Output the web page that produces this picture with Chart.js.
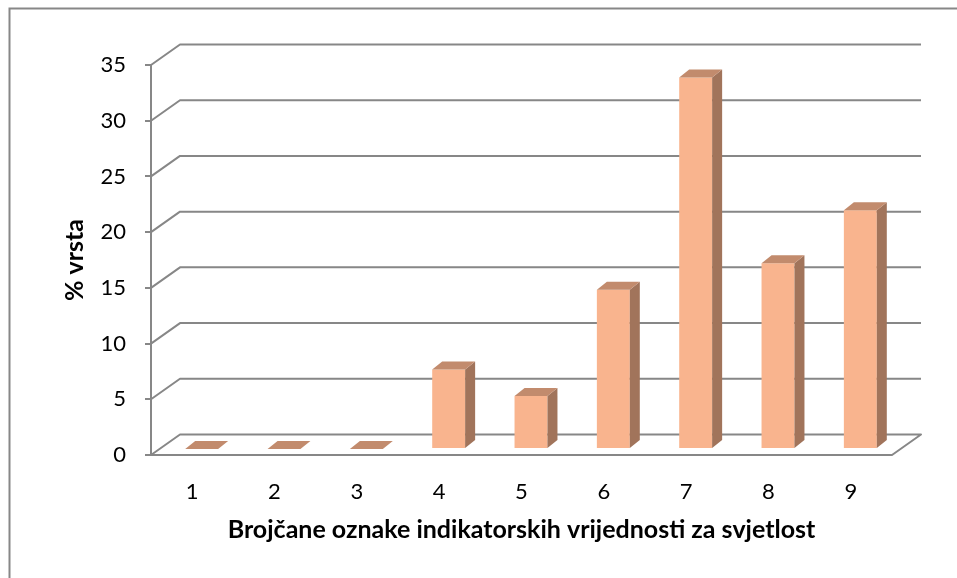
<!DOCTYPE html>
<html>
<head>
<meta charset="utf-8">
<script src="https://cdn.jsdelivr.net/npm/chart.js@4"></script>
<style>
  html, body { margin: 0; padding: 0; background: #fff; }
  #chart { display: block; }
</style>
</head>
<body>
<canvas id="chart" width="957" height="578"></canvas>
<script>
// values (% of species per light indicator value)
const categories = ["1", "2", "3", "4", "5", "6", "7", "8", "9"];
const percentages = [0, 0, 0, 7.14, 4.76, 14.29, 33.33, 16.67, 21.43];
const yTicks = [0, 5, 10, 15, 20, 25, 30, 35];

const GRID = "#878787";
const FRONT = "#f9b48e";
const SIDE = "#a1745b";
const TOP = "#c28b6d";
const WALL_DX = 29, WALL_DY = -20.5; // depth of the floor / back wall
const BAR_DX = 9.5, BAR_DY = -6;     // where the bars stand inside that depth
const DEPTH_X = 10, DEPTH_Y = -8;    // thickness of each bar

const walls3d = {
  id: "walls3d",
  beforeDraw(chart) {
    const ctx = chart.ctx;
    ctx.save();
    ctx.strokeStyle = GRID;
    ctx.lineWidth = 2;
    ctx.beginPath();
    ctx.moveTo(9.5, chart.height);
    ctx.lineTo(9.5, 8.5);
    ctx.lineTo(chart.width, 8.5);
    ctx.stroke();
    ctx.restore();
  },
  beforeDatasetsDraw(chart) {
    const ctx = chart.ctx;
    const { left, right } = chart.chartArea;
    const y = chart.scales.y;
    ctx.save();
    ctx.strokeStyle = GRID;
    ctx.lineWidth = 2;
    ctx.lineJoin = "round";
    yTicks.forEach(v => {
      const py = y.getPixelForValue(v);
      ctx.beginPath();
      ctx.moveTo(left, py);
      ctx.lineTo(left + WALL_DX, py + WALL_DY);
      ctx.lineTo(right + WALL_DX, py + WALL_DY);
      if (v === 0) {
        ctx.lineTo(right, py);
        ctx.lineTo(left, py);
      }
      ctx.stroke();
    });
    ctx.restore();
    // shift the library's bars back into the floor
    ctx.save();
    ctx.translate(BAR_DX, BAR_DY);
  },
  afterDatasetsDraw(chart) {
    const ctx = chart.ctx;
    const meta = chart.getDatasetMeta(0);
    meta.data.forEach(bar => {
      const { x, y, base, width } = bar.getProps(["x", "y", "base", "width"], true);
      const l = x - width / 2, r = x + width / 2;
      // side face
      ctx.fillStyle = SIDE;
      ctx.beginPath();
      ctx.moveTo(r, y);
      ctx.lineTo(r + DEPTH_X, y + DEPTH_Y);
      ctx.lineTo(r + DEPTH_X, base + DEPTH_Y);
      ctx.lineTo(r, base);
      ctx.closePath();
      ctx.fill();
      // top face
      ctx.fillStyle = TOP;
      ctx.beginPath();
      ctx.moveTo(l, y);
      ctx.lineTo(l + DEPTH_X, y + DEPTH_Y);
      ctx.lineTo(r + DEPTH_X, y + DEPTH_Y);
      ctx.lineTo(r, y);
      ctx.closePath();
      ctx.fill();
    });
    ctx.restore();
  }
};

new Chart(document.getElementById("chart"), {
  type: "bar",
  data: {
    labels: categories,
    datasets: [{
      data: percentages,
      backgroundColor: FRONT,
      borderWidth: 0,
      categoryPercentage: 1,
      barPercentage: 0.4,
      clip: false
    }]
  },
  options: {
    responsive: false,
    animation: false,
    events: [],
    layout: { padding: { left: 0, top: 65, right: 65, bottom: 0 } },
    plugins: { legend: { display: false }, tooltip: { enabled: false } },
    scales: {
      x: {
        grid: { display: false, drawTicks: false },
        border: { display: false },
        ticks: { color: "#000", padding: 24, font: { family: "Lato", size: 22 } },
        title: {
          display: true,
          text: "Brojčane oznake indikatorskih vrijednosti za svjetlost",
          color: "#000",
          font: { family: "Lato", size: 25, weight: "bold" },
          padding: { top: 0, bottom: 33 }
        },
        afterFit(scale) { scale.height = 123; }
      },
      y: {
        min: 0,
        max: 35,
        ticks: { stepSize: 5, color: "#000", padding: 19, font: { family: "Lato", size: 22 } },
        grid: { drawOnChartArea: false, drawTicks: true, tickLength: 6, color: GRID, lineWidth: 2 },
        border: { display: true, color: GRID, width: 2 },
        title: {
          display: true,
          text: "% vrsta",
          color: "#000",
          font: { family: "Lato", size: 25, weight: "bold" },
          padding: { top: 60, bottom: 0 }
        },
        afterFit(scale) { scale.width = 151; }
      }
    }
  },
  plugins: [walls3d]
});
</script>
</body>
</html>
